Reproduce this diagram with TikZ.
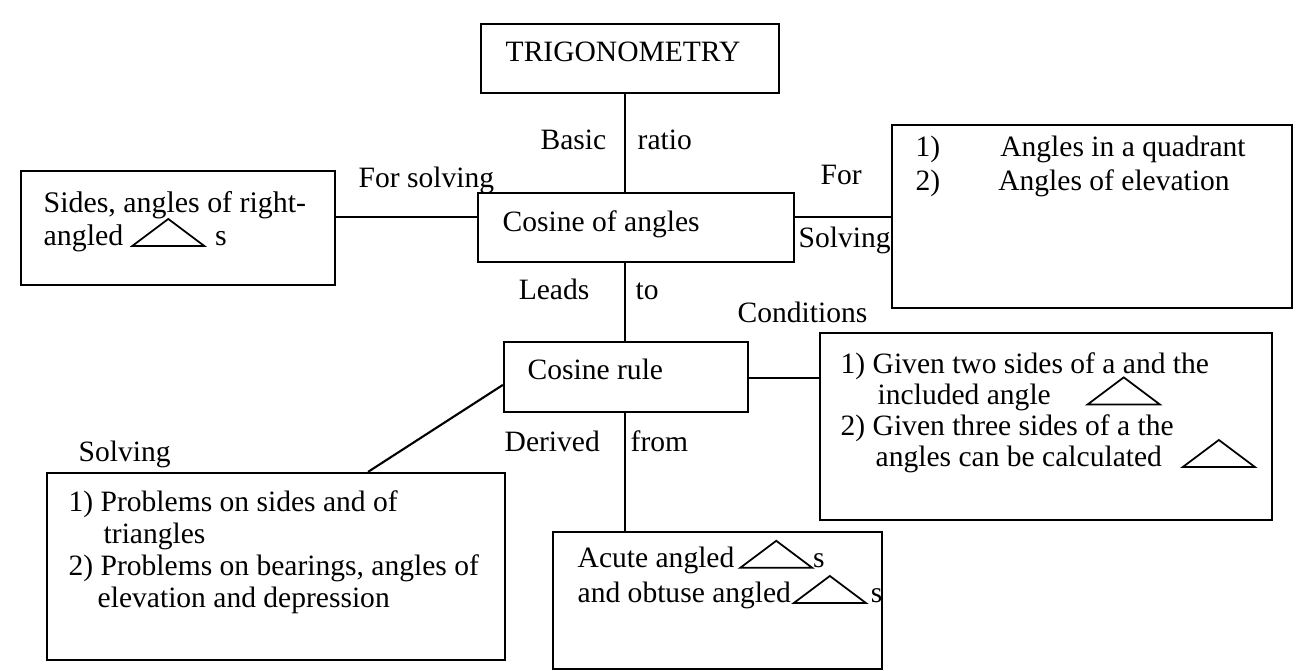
\documentclass[tikz,border=0pt]{standalone}
\usepackage{fontspec}
\setmainfont{Liberation Serif}
\usepackage{tikz}
\usetikzlibrary{calc}
\newcommand{\tri}{\smash{\tikz[x=1cm,y=1cm,baseline=0pt,line width=0.5pt]\draw (0,0) -- (0.36,0.27) -- (0.72,0) -- cycle;}}

\begin{document}
\begin{tikzpicture}[x=0.01cm,y=-0.01cm,
    box/.style={draw,line width=0.6pt,inner sep=0pt},
    txt/.style={inner sep=0pt,anchor=base west,align=left},
    lbl/.style={inner sep=0pt},
    every node/.style={font=\fontsize{8.4}{9.2}\selectfont}]
    \useasboundingbox (0,0) rectangle (1311,671);
    \node[box,minimum width=2.98cm,minimum height=0.69cm] (trig) at (630,58.5) {};
    \node[box,minimum width=3.16cm,minimum height=0.69cm] (cosang) at (636,227.5) {};
    \node[box,minimum width=3.14cm,minimum height=1.14cm] (sides) at (178,228) {};
    \node[box,minimum width=4.00cm,minimum height=1.83cm] (quad) at (1092,216.5) {};
    \node[box,minimum width=2.44cm,minimum height=0.70cm] (cosrule) at (626,377) {};
    \node[box,minimum width=4.52cm,minimum height=1.87cm] (cond) at (1046,426.5) {};
    \node[box,minimum width=4.58cm,minimum height=1.87cm] (solving) at (276,566.5) {};
    \node[box,minimum width=3.29cm,minimum height=1.37cm] (acute) at (717.5,600.5) {};
    \node[txt] (trigtxt) at (505,62) {TRIGONOMETRY};
    \node[txt] (cosangtxt) at (502,232) {Cosine of angles};
    \node[txt] (cosruletxt) at (527,380) {Cosine rule};
    \node[txt,font=\fontsize{8.5}{9.6}\selectfont] (sidestxt) at (43,246)
        {Sides, angles of right-\\angled\hspace{0.8mm}\tri\hspace{1mm}s};
    \node[txt,font=\fontsize{8.4}{9.7}\selectfont] (quadtxt) at (915,191)
        {1)\hspace{6mm}Angles in a quadrant\\2)\hspace{5.8mm}Angles of elevation};
    \node[txt,font=\fontsize{8.4}{8.9}\selectfont] (condtxt) at (840,467)
        {1) Given two sides of a and the\\\hspace{3.7mm}included angle\hspace{3.6mm}\tri\\
         2) Given three sides of a the\\\hspace{3.5mm}angles can be calculated\hspace{2mm}\tri};
    \node[txt,font=\fontsize{8.4}{9.1}\selectfont] (solvingtxt) at (68,608)
        {1) Problems on sides and of\\\hspace{3.5mm}triangles\\
         2) Problems on bearings, angles of\\\hspace{2.9mm}elevation and depression};
    \node[txt,font=\fontsize{8.4}{10}\selectfont] (acutetxt) at (577,603)
        {Acute angled\hspace{0.5mm}\tri s\\and obtuse angled\hspace{0.2mm}\tri\hspace{0.4mm}s};
    \node[lbl,anchor=base east] (basic) at (607,150) {Basic};
    \node[lbl,anchor=base west] (ratio) at (637,150) {ratio};
    \node[lbl,anchor=base west] (forsolving) at (358,188) {For solving};
    \node[lbl,anchor=base west] (for) at (820,185) {For};
    \node[lbl,anchor=base west] (solvingr) at (798,248) {Solving};
    \node[lbl,anchor=base east] (leads) at (590,300) {Leads};
    \node[lbl,anchor=base west] (to) at (635,300) {to};
    \node[lbl,anchor=base west] (conditions) at (737,323) {Conditions};
    \node[lbl,anchor=base west] (derived) at (504,452) {Derived};
    \node[lbl,anchor=base west] (from) at (630,452) {from};
    \node[lbl,anchor=base west] (solvingl) at (78,462) {Solving};
    \coordinate (axis) at (625,0);
    \coordinate (rowA) at (0,217);
    \coordinate (rowB) at (0,378);
    \begin{scope}[line width=0.6pt]
    \draw (trig.south -| axis) -- (cosang.north -| axis);
    \draw (cosang.south -| axis) -- (cosrule.north -| axis);
    \draw (cosrule.south -| axis) -- (acute.north -| axis);
    \draw (sides.east |- rowA) -- (cosang.west |- rowA);
    \draw (cosang.east |- rowA) -- (quad.west |- rowA);
    \draw (cosrule.east |- rowB) -- (cond.west |- rowB);
    \draw ($(cosrule.south west)!0.39!(cosrule.north west)$) -- ($(solving.north west)!0.7!(solving.north east)$);
    \end{scope}
\end{tikzpicture}
\end{document}
